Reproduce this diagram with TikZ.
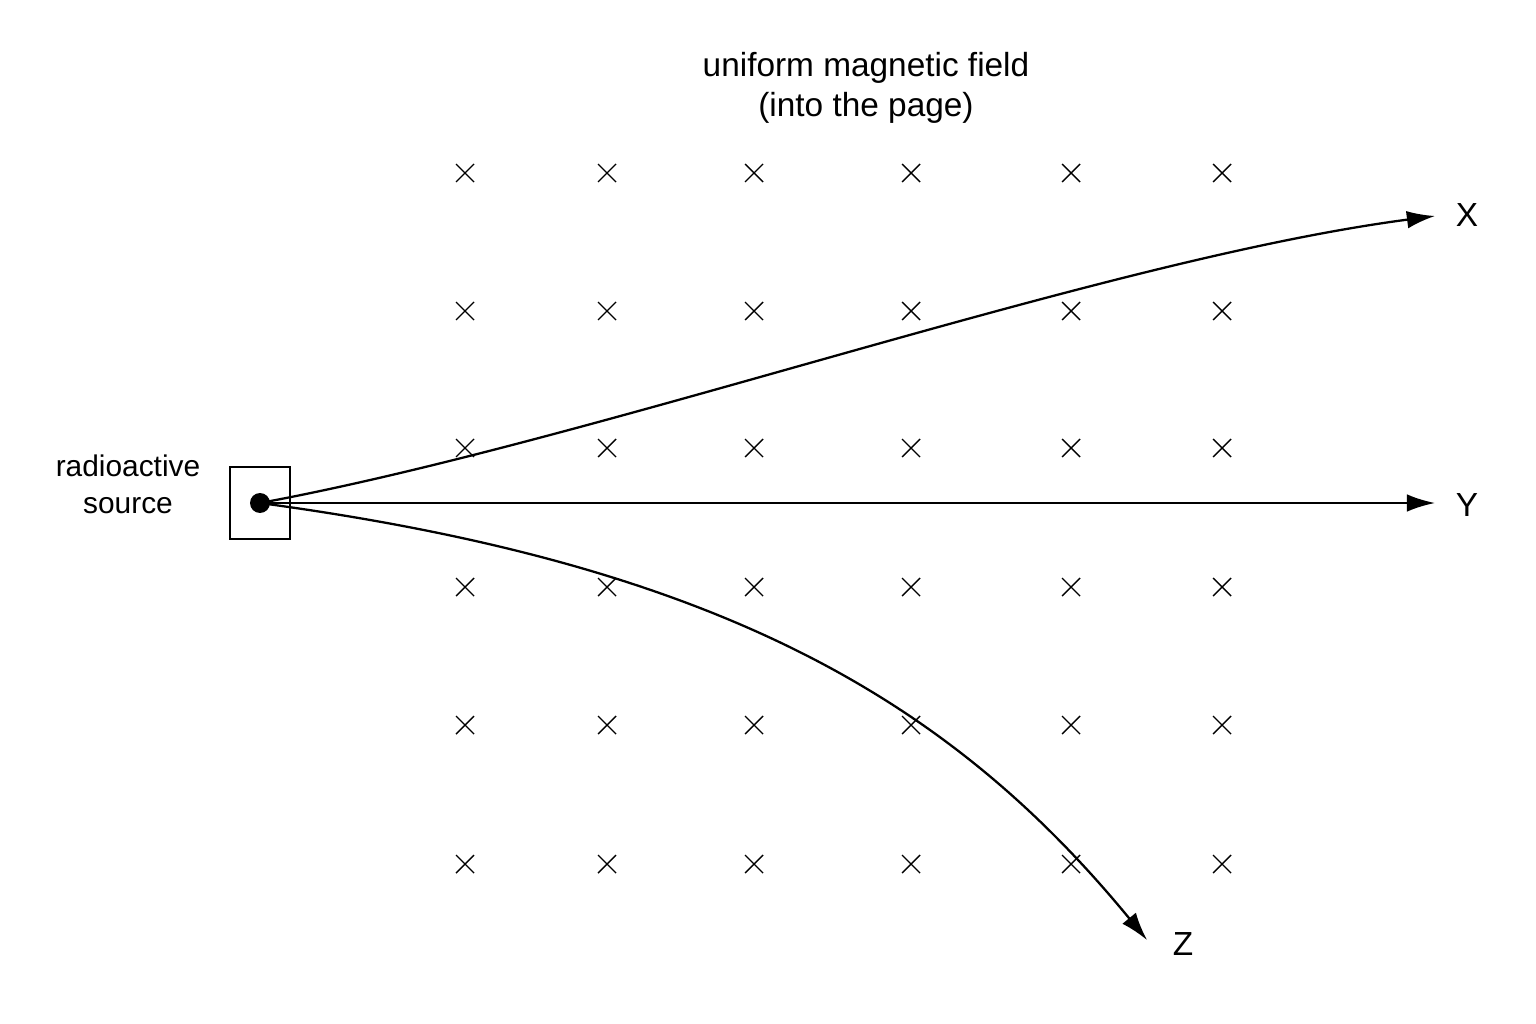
\documentclass[tikz,border=0pt]{standalone}
\usepackage{fontspec}
\setmainfont{Liberation Sans}
\usetikzlibrary{arrows.meta}
\begin{document}
\begin{tikzpicture}[x=0.02cm,y=-0.02cm,
  cross/.style={line width=0.8pt},
  ray/.style={line width=1.3pt,-{Latex[length=16pt,width=10pt]}},
  lbl/.style={font=\fontsize{19}{23}\selectfont,align=center}]
\useasboundingbox (0,0) rectangle (1536,1024);
\foreach \x in {465,607,754,911,1071,1222}
  \foreach \y in {173,311,448,587,725,864}
    \draw[cross] (\x-9,\y-9) -- (\x+9,\y+9) (\x-9,\y+9) -- (\x+9,\y-9);
\node[lbl] (title) at (866,88) {uniform magnetic field\\(into the page)};
\node[draw,line width=0.9pt,minimum width=1.2cm,minimum height=1.44cm,inner sep=0pt] (box) at (260,503) {};
\node[circle,fill,minimum size=0.4cm,inner sep=0pt] (src) at (260,503) {};
\node[lbl,font=\fontsize{17}{21}\selectfont] (srclbl) at (128,484) {radioactive\\source};
\coordinate (xe) at (1435,216);
\coordinate (ye) at (1435,503);
\coordinate (ze) at (1147,940);
\draw[ray] (src.center) .. controls (600,440) and (1100,260) .. (xe);
\draw[ray] (src.center) -- (ye);
\draw[ray] (src.center) .. controls (720,565) and (950,700) .. (ze);
\node[lbl] (X) at (1467,215) {X};
\node[lbl] (Y) at (1467,505) {Y};
\node[lbl] (Z) at (1183,944) {Z};
\end{tikzpicture}
\end{document}
